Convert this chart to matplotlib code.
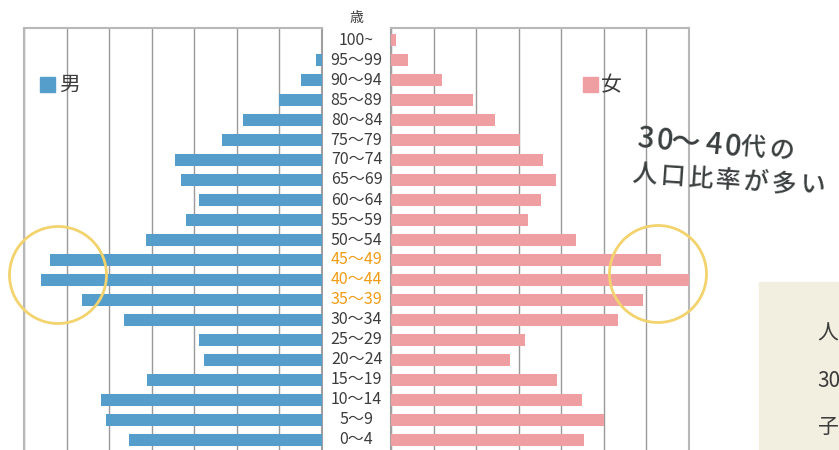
import numpy as np
import matplotlib
matplotlib.use("Agg")
import matplotlib.pyplot as plt
from matplotlib.patches import Circle, Rectangle
from matplotlib.transforms import blended_transform_factory

plt.rcParams["font.family"] = ["Noto Sans CJK JP", "DejaVu Sans"]

# -----------------------
# data (top row first)
# -----------------------

ages = ["100~", "95～99", "90～94", "85～89", "80～84", "75～79", "70～74",
        "65～69", "60～64", "55～59", "50～54", "45～49", "40～44", "35～39",
        "30～34", "25～29", "20～24", "15～19", "10～14", "5～9", "0～4"]

male = [0, 7, 25, 50, 93, 117, 173, 166, 144, 160, 207,
        319, 330, 282, 233, 144, 139, 206, 260, 254, 227]

female = [6, 20, 60, 96, 122, 152, 179, 194, 176, 161, 217,
          317, 350, 296, 267, 157, 140, 195, 224, 250, 227]

highlight = ["45～49", "40～44", "35～39"]

BLUE = "#559ecb"
PINK = "#ef9ea2"
ORANGE = "#f09c14"
YELLOW = "#f3d36d"
TEXT = "#3c3c3c"
GRID = "#9a9a9a"
FRAME = "#b8b8b8"

W, H = 839, 450
fig = plt.figure(figsize=(W / 100, H / 100), dpi=100)

def px_axes(x0, y0, x1, y1):
    return fig.add_axes([x0 / W, 1 - y1 / H, (x1 - x0) / W, (y1 - y0) / H])

ax_l = px_axes(24, 28, 322, 452)
ax_r = px_axes(391, 28, 689, 452)

y = np.arange(len(ages))

for ax, vals, col in [(ax_l, male, BLUE), (ax_r, female, PINK)]:
    ax.barh(y, vals, height=0.64, color=col, zorder=3)
    ax.set_ylim(len(ages) - 0.4, -0.6)
    ax.set_xticks(np.arange(0, 351, 50))
    ax.set_yticks([])
    ax.tick_params(axis="x", length=0, labelbottom=False)
    ax.grid(axis="x", color=GRID, lw=1, zorder=1)
    for s in ax.spines.values():
        s.set_color(FRAME)
        s.set_linewidth(1.5)
    ax.spines["bottom"].set_visible(False)

ax_l.set_xlim(350, 0)
ax_r.set_xlim(0, 350)
ax_l.spines["right"].set_color("#a0a0a0")
ax_r.spines["left"].set_color("#a0a0a0")

# age labels in the middle column
tr = blended_transform_factory(fig.transFigure, ax_l.transData)
for i, a in enumerate(ages):
    ax_l.text(356.5 / W, i, a, transform=tr, ha="center", va="center",
              fontsize=11.5, color=ORANGE if a in highlight else TEXT,
              clip_on=False)
fig.text(356.5 / W, 1 - 18 / H, "歳", ha="center", va="center",
         fontsize=10, color=TEXT)

# -----------------------
# overlay in pixel coords
# -----------------------

ov = fig.add_axes([0, 0, 1, 1])
ov.set_xlim(0, W)
ov.set_ylim(H, 0)
ov.axis("off")
ov.patch.set_visible(False)

# legend
ov.add_patch(Rectangle((40, 77), 15, 15, color=BLUE))
ov.text(59, 85, "男", fontsize=15, va="center", ha="left", color=TEXT)
ov.add_patch(Rectangle((583, 77), 15, 15, color=PINK))
ov.text(601, 85, "女", fontsize=15, va="center", ha="left", color=TEXT)

# circles
ov.add_patch(Circle((58, 275), 48.5, fill=False, ec=YELLOW, lw=2))
ov.add_patch(Circle((658, 274), 48.5, fill=False, ec=YELLOW, lw=2))

# hand-written style comment, one glyph at a time with wide spacing
def spaced(text, x, yy, slope, rot):
    for ch in text:
        big = ch.isdigit() or ch == "～"
        step = 20 if ch.isdigit() else 28
        ov.text(x, yy, ch, fontsize=21 if big else 18,
                color="#3a3f3f", rotation=rot, ha="center", va="center",
                fontweight="medium", rotation_mode="anchor")
        x += step
        yy += step * slope

spaced("30～40代の", 645, 139, 0.09, -5)
spaced("人口比率が多い", 644, 175, 0.07, -4)

# side box (cut off at the edge)
ov.add_patch(Rectangle((759, 282), 100, 200, color="#f2efe0", zorder=0))
for yy, t in [(334, "人"), (381, "30"), (427, "子")]:
    ov.text(817, yy, t, fontsize=15, va="center", ha="left", color=TEXT)

fig.savefig("out.png", dpi=100)
